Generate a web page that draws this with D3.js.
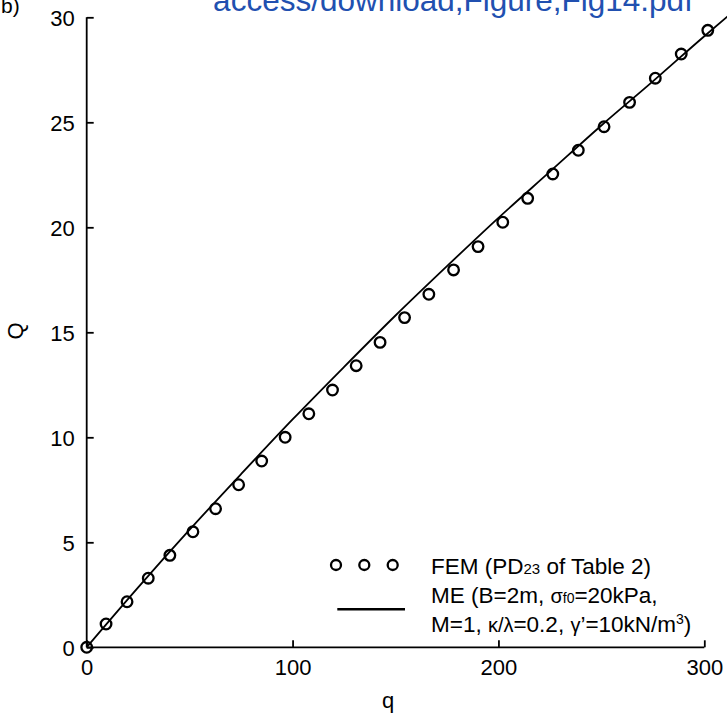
<!DOCTYPE html>
<html>
<head>
<meta charset="utf-8">
<script src="https://cdn.jsdelivr.net/npm/d3@7/dist/d3.min.js"></script>
<style>
  html, body { margin: 0; padding: 0; background: #fff; }
  svg { display: block; }
  text { font-family: "Liberation Sans", Arial, Helvetica, sans-serif; fill: #000; }
</style>
</head>
<body>
<svg id="chart" width="727" height="717"></svg>
<script>
// FEM results (PD23 of Table 2): load q against Q
const qFEM = [0, 9.4, 19.6, 29.9, 40.4, 51.6, 62.6, 73.8, 85.0, 96.4, 107.9, 119.4, 130.9,
              142.5, 154.4, 166.2, 178.2, 190.1, 202.1, 214.2, 226.4, 238.8, 251.3, 263.7,
              276.2, 288.8, 301.7];
const QFEM = [0, 1.11, 2.17, 3.29, 4.38, 5.50, 6.60, 7.74, 8.87, 10.00, 11.12, 12.25, 13.41,
              14.52, 15.70, 16.81, 17.97, 19.08, 20.24, 21.38, 22.54, 23.67, 24.79, 25.95,
              27.10, 28.25, 29.38];

// ME prediction curve
const qME = [0, 25, 50, 75, 100, 125, 150, 175, 200, 225, 250, 275, 300, 312];
const QME = [0, 2.85, 5.6, 8.25, 10.85, 13.35, 15.8, 18.15, 20.45, 22.65, 24.85, 26.95, 29.1, 30.1];

// Axis ticks
const xTicks = [0, 100, 200, 300];
const yTicks = [0, 5, 10, 15, 20, 25, 30];

const svg = d3.select("#chart");

const x = d3.scaleLinear().domain([0, 300]).range([86.7, 704.3]);
const y = d3.scaleLinear().domain([0, 30]).range([647.3, 17.3]);

// Header text
svg.append("text")
  .attr("x", 453).attr("y", 11)
  .attr("text-anchor", "middle")
  .style("font-size", "31.5px")
  .style("fill", "#2150b0")
  .text("access/download,Figure,Fig14.pdf");

svg.append("text")
  .attr("x", 1).attr("y", 13)
  .style("font-size", "21px")
  .text("b)");

// Axes
const axisStroke = 1.8;
const xAxis = svg.append("g")
  .attr("transform", `translate(0,${y(0)})`)
  .call(d3.axisBottom(x).tickValues(xTicks).tickSize(-7).tickPadding(0).tickFormat(d3.format("d")));
const yAxis = svg.append("g")
  .attr("transform", `translate(${x(0)},0)`)
  .call(d3.axisLeft(y).tickValues(yTicks).tickSize(-7).tickPadding(0).tickFormat(d3.format("d")));

[xAxis, yAxis].forEach(g => {
  g.select(".domain").attr("stroke", "#000").attr("stroke-width", axisStroke);
  g.selectAll(".tick line").attr("stroke", "#000").attr("stroke-width", axisStroke);
  g.selectAll(".tick text")
    .style("font-size", "22px")
    .style("font-family", "'Liberation Sans', Arial, sans-serif")
    .attr("fill", "#000");
});
xAxis.select(".domain").attr("d", `M${x(0)},0H${x(300)}`);
yAxis.select(".domain").attr("d", `M0,${y(0)}V${y(30)}`);
xAxis.selectAll(".tick text").attr("y", 12).attr("dy", "0.71em");
yAxis.selectAll(".tick text").attr("x", -12).attr("dy", "0.36em");

// Axis titles
svg.append("text")
  .attr("x", 388).attr("y", 708)
  .attr("text-anchor", "middle")
  .style("font-size", "22px")
  .text("q");
svg.append("text")
  .attr("transform", `translate(23,${331}) rotate(-90)`)
  .attr("text-anchor", "middle")
  .style("font-size", "22px")
  .text("Q");

// ME curve
const line = d3.line()
  .x((d, i) => x(qME[i]))
  .y((d, i) => y(QME[i]))
  .curve(d3.curveMonotoneX);
svg.append("path")
  .datum(qME)
  .attr("d", line)
  .attr("fill", "none")
  .attr("stroke", "#000")
  .attr("stroke-width", 1.8);

// FEM points
svg.append("g").selectAll("circle")
  .data(qFEM)
  .join("circle")
  .attr("cx", (d, i) => x(qFEM[i]))
  .attr("cy", (d, i) => y(QFEM[i]))
  .attr("r", 5.3)
  .attr("fill", "none")
  .attr("stroke", "#000")
  .attr("stroke-width", 2.3);

// Legend
const legend = svg.append("g");
[336, 364.3, 392.7].forEach(cx => {
  legend.append("circle")
    .attr("cx", cx).attr("cy", 565)
    .attr("r", 5)
    .attr("fill", "none")
    .attr("stroke", "#000")
    .attr("stroke-width", 2.3);
});
legend.append("line")
  .attr("x1", 337.3).attr("x2", 405)
  .attr("y1", 609.3).attr("y2", 609.3)
  .attr("stroke", "#000")
  .attr("stroke-width", 2.5);

const lx = 431;
const fs = "22.5px";
const t1 = legend.append("text").attr("x", lx).attr("y", 574.3).style("font-size", fs);
t1.append("tspan").text("FEM (PD");
t1.append("tspan").style("font-size", "15px").text("23");
t1.append("tspan").text(" of Table 2)");

const t2 = legend.append("text").attr("x", lx).attr("y", 603.3).style("font-size", fs);
t2.append("tspan").text("ME (B=2m, ");
t2.append("tspan").style("font-size", "20px").text("σ");
t2.append("tspan").style("font-size", "14px").text("f0");
t2.append("tspan").text("=20kPa,");

const t3 = legend.append("text").attr("x", lx).attr("y", 631.7).style("font-size", fs);
t3.append("tspan").text("M=1, ");
t3.append("tspan").style("font-size", "20px").text("κ/λ");
t3.append("tspan").text("=0.2, ");
t3.append("tspan").style("font-size", "20px").text("γ");
t3.append("tspan").text("’=10kN/m");
t3.append("tspan").style("font-size", "14px").attr("dy", "-8").text("3");
t3.append("tspan").attr("dy", "8").text(")");
</script>
</body>
</html>
